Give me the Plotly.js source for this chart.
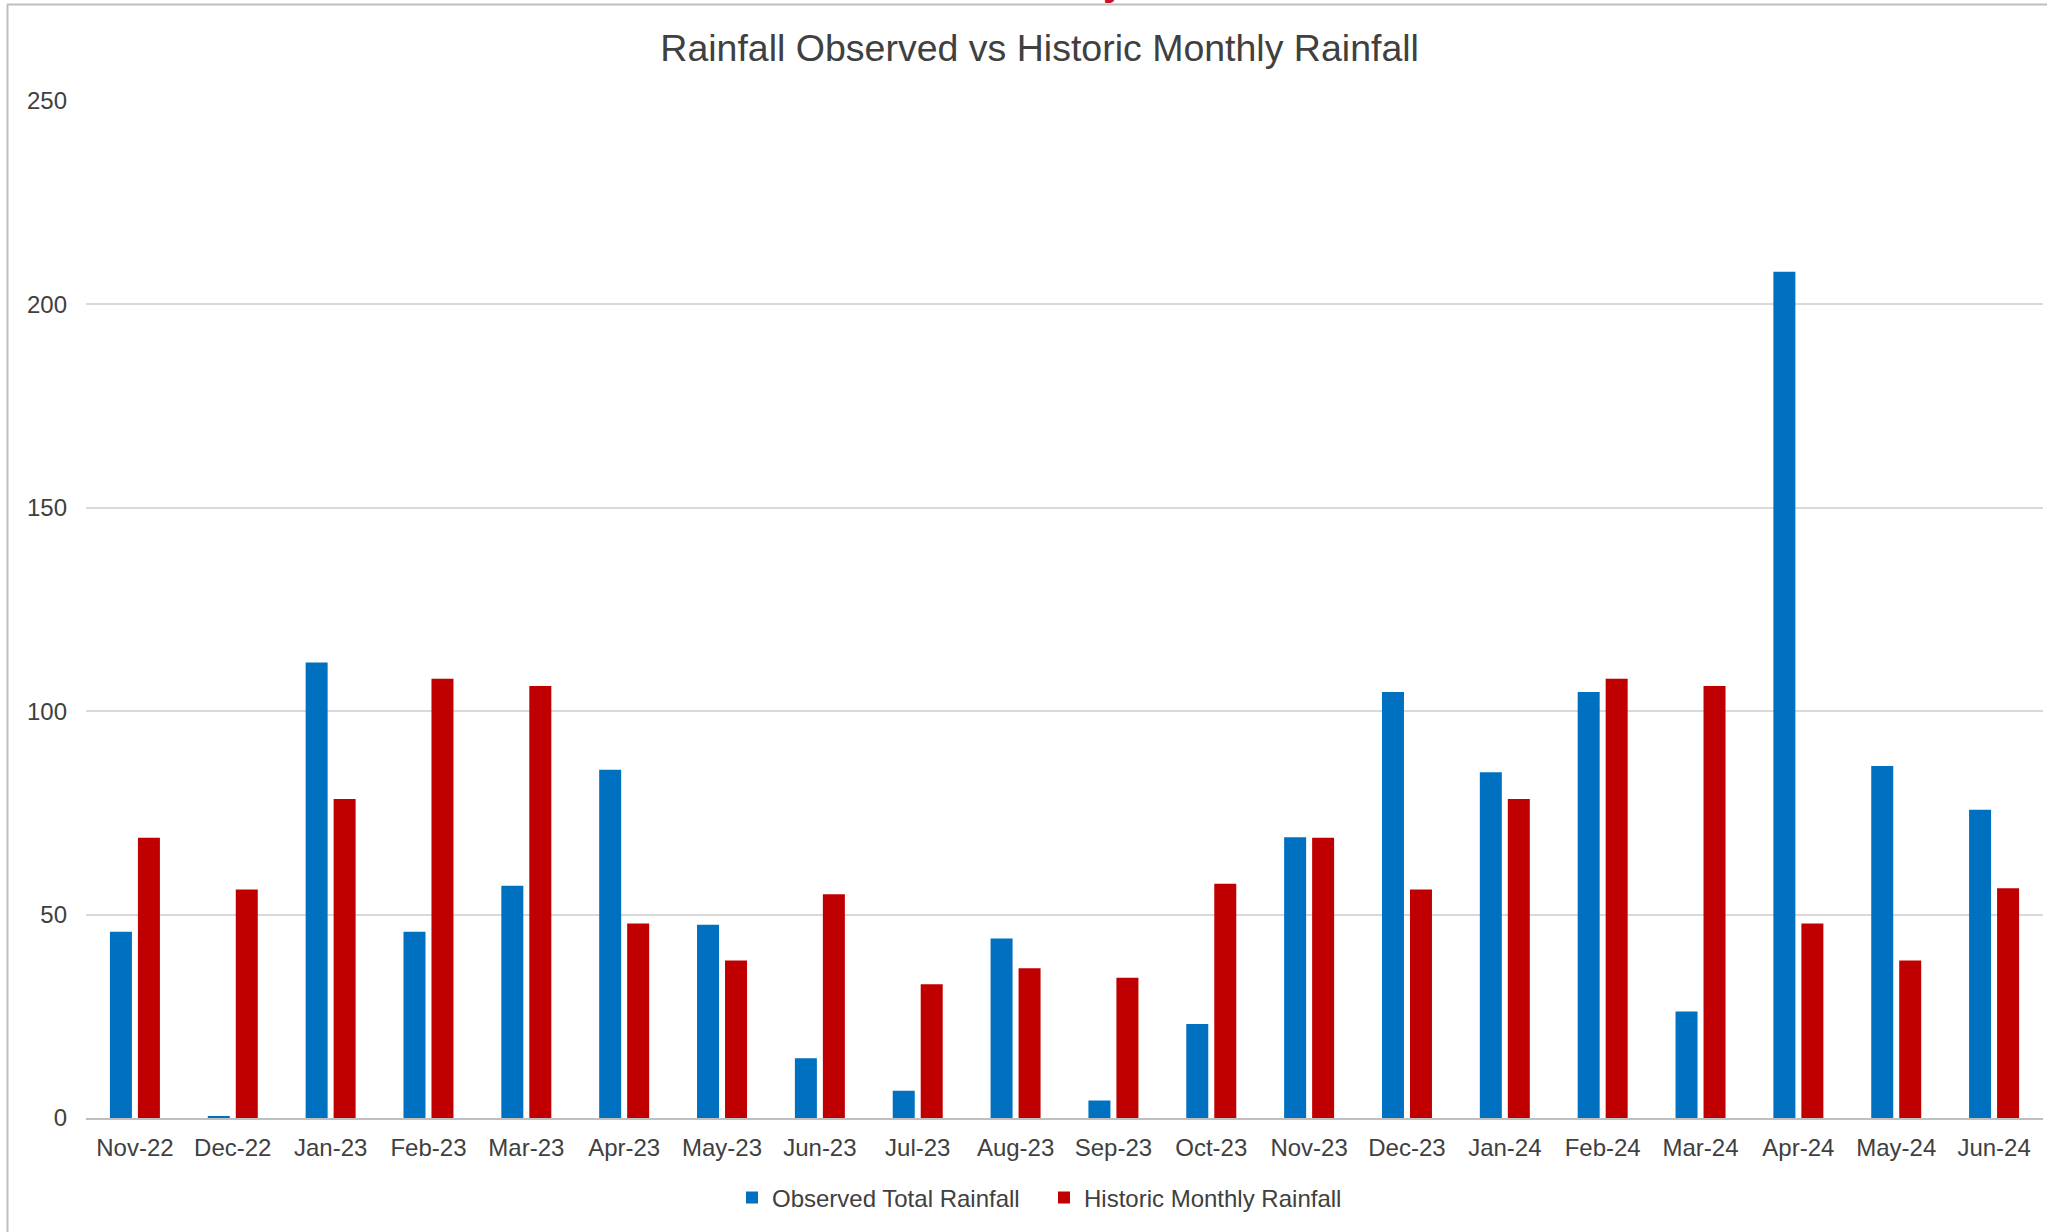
<!DOCTYPE html>
<html>
<head>
<meta charset="utf-8">
<script src="https://cdn.plot.ly/plotly-3.0.1.min.js"></script>
<style>
  html, body { margin: 0; padding: 0; background: #ffffff; }
  #chart { width: 2071px; height: 1232px; }
</style>
</head>
<body>
<div id="chart"></div>
<script>
const months = ["Nov-22","Dec-22","Jan-23","Feb-23","Mar-23","Apr-23","May-23","Jun-23","Jul-23","Aug-23",
                "Sep-23","Oct-23","Nov-23","Dec-23","Jan-24","Feb-24","Mar-24","Apr-24","May-24","Jun-24"];
const observedTotal = [45.8, 0.5, 112.0, 45.8, 57.1, 85.6, 47.5, 14.7, 6.7, 44.1,
                       4.3, 23.1, 69.0, 104.7, 85.0, 104.7, 26.2, 208.0, 86.5, 75.8];
const historicMonthly = [68.9, 56.2, 78.4, 108.0, 106.2, 47.8, 38.7, 55.0, 32.9, 36.8,
                         34.5, 57.6, 68.9, 56.2, 78.4, 108.0, 106.2, 47.8, 38.7, 56.5];
const yTicks = [0, 50, 100, 150, 200, 250];

const FONT = "Liberation Sans, Arial, sans-serif";
const TXT = "#404040";

const traces = [
  {
    type: "bar", name: "Observed Total Rainfall", x: months, y: observedTotal,
    marker: { color: "#0070c0", line: { width: 0 } }, hoverinfo: "x+y"
  },
  {
    type: "bar", name: "Historic Monthly Rainfall", x: months, y: historicMonthly,
    marker: { color: "#c00000", line: { width: 0 } }, hoverinfo: "x+y"
  }
];

const layout = {
  width: 2071, height: 1232,
  paper_bgcolor: "#ffffff", plot_bgcolor: "#ffffff",
  margin: { l: 86, r: 28, t: 101, b: 114 },
  barmode: "group", bargap: 0.428, bargroupgap: 0.214,
  font: { family: FONT, color: TXT, size: 24 },
  title: {
    text: "Rainfall Observed vs Historic Monthly Rainfall",
    font: { family: FONT, size: 37.5, color: TXT },
    x: 0.502, xref: "container", xanchor: "center",
    y: 1 - 47.5 / 1232, yref: "container", yanchor: "middle"
  },
  xaxis: {
    type: "category", tickvals: months, ticktext: months,
    showgrid: false, zeroline: false,
    showline: true, linecolor: "#bfbfbf", linewidth: 2,
    ticks: "", tickfont: { family: FONT, size: 24, color: TXT },
    ticklabelstandoff: 7, fixedrange: true
  },
  yaxis: {
    range: [0, 250], tickvals: yTicks, ticktext: yTicks.map(String),
    showgrid: true, gridcolor: "#d9d9d9", gridwidth: 2,
    zeroline: false, showline: false, ticks: "",
    tickfont: { family: FONT, size: 24, color: TXT },
    ticklabelstandoff: 18, fixedrange: true
  },
  legend: {
    orientation: "h", x: 0.5041, xref: "container", xanchor: "center",
    y: 1 - 1198 / 1232, yref: "container", yanchor: "middle",
    font: { family: FONT, size: 24, color: TXT },
    entrywidth: 267, entrywidthmode: "pixels",
    itemclick: false, itemdoubleclick: false, tracegroupgap: 0
  },
  shapes: [
    { type: "line", xref: "paper", yref: "paper",
      x0: (7 - 86) / 1957, x1: (2047 - 86) / 1957, y0: (1118 - 4.5) / 1017, y1: (1118 - 4.5) / 1017,
      line: { color: "#bfbfbf", width: 2 } },
    { type: "line", xref: "paper", yref: "paper",
      x0: (7.5 - 86) / 1957, x1: (7.5 - 86) / 1957, y0: (1118 - 4.5) / 1017, y1: (1118 - 1240) / 1017,
      line: { color: "#bfbfbf", width: 2 } }
  ],
  annotations: [
    { text: "y", showarrow: false, xref: "paper", yref: "paper",
      x: (1114 - 86) / 1957, xanchor: "center",
      y: (1118 - 5) / 1017, yanchor: "bottom",
      font: { family: FONT, size: 40, color: "#c8102e", weight: "bold" } }
  ]
};

Plotly.newPlot("chart", traces, layout, { displayModeBar: false, staticPlot: true });
</script>
</body>
</html>
